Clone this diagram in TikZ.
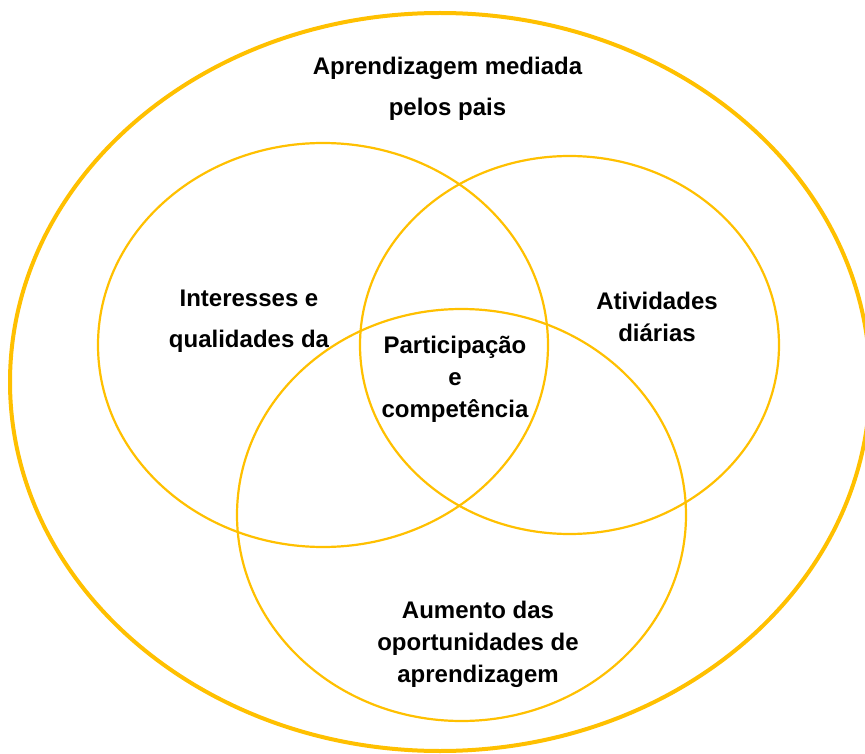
\documentclass[tikz,border=0pt]{standalone}
\usepackage{fontspec}
\setmainfont{Liberation Sans}
\definecolor{gold}{HTML}{FFC000}
\begin{document}
\begin{tikzpicture}[x=1pt,y=-1pt,
  ring/.style={draw=gold,line width=2.2pt},
  outerring/.style={draw=gold,line width=4pt},
  lbl/.style={align=center,inner sep=0pt,font=\bfseries\fontsize{24}{32}\selectfont},
  lblwide/.style={align=center,inner sep=0pt,font=\bfseries\fontsize{24}{41}\selectfont}]
\useasboundingbox (0,0) rectangle (865,754);
\fill[white] (0,0) rectangle (865,754);
\draw[outerring] (440,382) ellipse [x radius=430, y radius=369];
\draw[ring] (323,345) ellipse [x radius=225, y radius=202];
\draw[ring] (569.5,345) ellipse [x radius=209.5, y radius=189];
\draw[ring] (461.5,515) ellipse [x radius=224.5, y radius=206];
\node[lblwide] (top) at (447.5,88.5) {Aprendizagem mediada\\pelos pais};
\node[lblwide] (left) at (249,321.5) {Interesses e\\qualidades da};
\node[lbl] (right) at (657,317) {Atividades\\diárias};
\node[lbl] (mid) at (455,379.5) {Participação\\e\\competência};
\node[lbl] (bottom) at (478,644.5) {Aumento das\\oportunidades de\\aprendizagem};
\end{tikzpicture}
\end{document}
